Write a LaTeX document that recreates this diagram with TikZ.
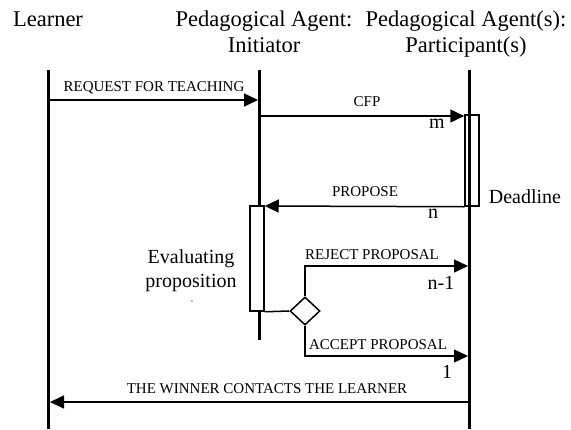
\documentclass[tikz,border=0pt]{standalone}
\usepackage{fontspec}
\setmainfont{Liberation Serif}
\usetikzlibrary{arrows.meta, shapes.geometric, positioning}

\begin{document}
\begin{tikzpicture}[x=1pt, y=-1pt, inner sep=0pt,
    role/.style={font=\fontsize{22.5}{26}\selectfont, align=center, anchor=base},
    note/.style={font=\fontsize{20}{24}\selectfont, align=center, anchor=base},
    tag/.style={font=\fontsize{15}{18}\selectfont, anchor=base},
    lifeline/.style={line width=3pt},
    msg/.style={line width=1.5pt, -{Triangle[length=14pt, width=13pt]}},
    activation/.style={draw, rectangle, line width=1.5pt, minimum width=14pt},
    choice/.style={draw, diamond, line width=1.5pt, fill=white, minimum width=30pt, minimum height=28pt}]
  \useasboundingbox (0,0) rectangle (571,429);

  % roles
  \node[role] (learner) at (48,26) {Learner};
  \node[role] (initiator) at (264,52) {Pedagogical Agent:\\Initiator};
  \node[role] (participant) at (466,52) {Pedagogical Agent(s):\\Participant(s)};

  % lifelines
  \coordinate (l0) at (48,70);  \coordinate (l1) at (48,429);
  \coordinate (i0) at (259,70); \coordinate (i1) at (259,340);
  \coordinate (p0) at (469,70); \coordinate (p1) at (469,429);
  \draw[lifeline] (l0) -- (l1) (i0) -- (i1) (p0) -- (p1);

  \node[activation, fill=white, minimum height=105pt] (evalbox) at (257,258.5) {};
  \node[activation, minimum height=91pt, minimum width=14pt] (waitbox) at (472,160.5) {};
  \node[choice] (choice) at (305,311) {};

  % message ends
  \coordinate (req0) at (l0 |- 0,100);  \coordinate (req1) at (258,100);
  \coordinate (cfp0) at (i0 |- 0,116);  \coordinate (cfp1) at (waitbox.west |- 0,116);
  \coordinate (prop1) at (evalbox.east |- 0,206);
  \coordinate (rej) at (468,266);
  \coordinate (acc) at (468,356);
  \coordinate (win0) at (p0 |- 0,402); \coordinate (win1) at (50,402);

  \draw[msg] (req0) -- (req1);
  \draw[msg] (cfp0) -- (cfp1);
  \draw[msg] (waitbox.south west) -- (prop1);
  \draw[line width=1.5pt] (evalbox.south east) -- (choice.west);
  \draw[msg] (choice.north) |- (rej);
  \draw[msg] (choice.south) |- (acc);
  \draw[msg] (win0) -- (win1);

  % labels
  \node[tag] (reqlbl) at (154,91) {REQUEST FOR TEACHING};
  \node[tag] (cfplbl) at (367,106) {CFP};
  \node[tag] (proplbl) at (365,196) {PROPOSE};
  \node[tag] (rejlbl) at (372,259) {REJECT PROPOSAL};
  \node[tag] (acclbl) at (378,349) {ACCEPT PROPOSAL};
  \node[tag] (winlbl) at (267,393) {THE WINNER CONTACTS THE LEARNER};
  \node[note] (m) at (437,128) {m};
  \node[note] (n) at (433,218) {n};
  \node[note] (n1) at (441,289) {n-1};
  \node[note] (one) at (447,378) {1};
  \node[note] (deadline) at (525,203) {Deadline};
  \node[note] (evaluating) at (191,287) {Evaluating\\proposition};
  \node[font=\fontsize{8}{8}\selectfont] (dash) at (192,302) {-};
\end{tikzpicture}
\end{document}
